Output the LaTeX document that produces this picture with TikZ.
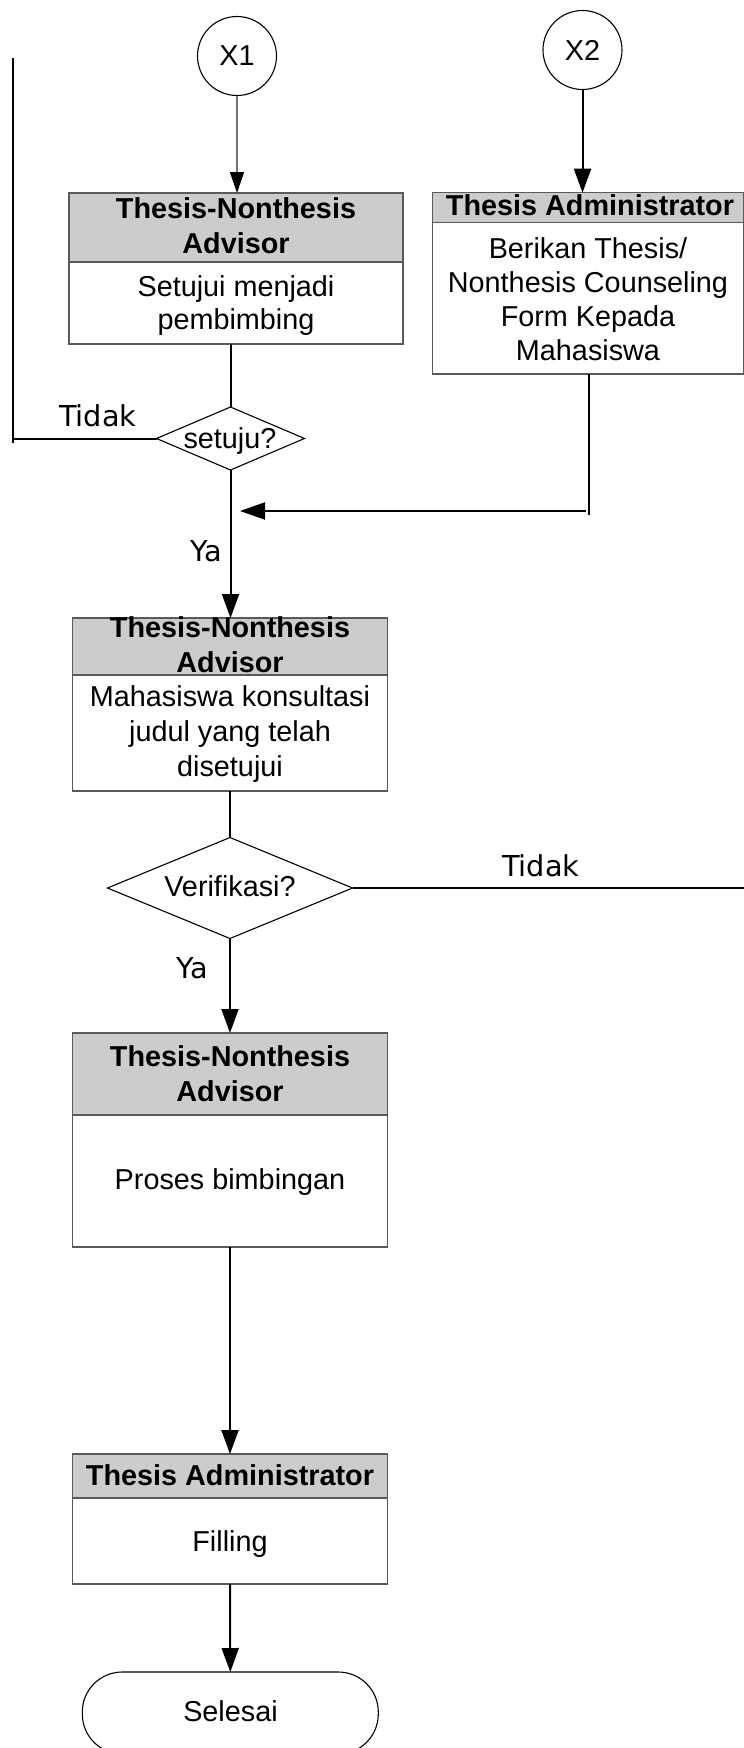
\documentclass[tikz,border=0pt]{standalone}
\usepackage{fontspec}
\setmainfont{Liberation Sans}
\newfontfamily\dejavufont{DejaVu Sans}
\usetikzlibrary{arrows.meta,shapes.geometric}
\definecolor{hdrgray}{RGB}{204,204,204}
\definecolor{edgegray}{RGB}{90,90,90}
\definecolor{lnkgray}{RGB}{115,115,115}
\newcommand{\mlines}[1]{\begin{tabular}[t]{@{}c@{}}#1\end{tabular}}
\tikzset{
  boxnode/.style={rectangle, draw=edgegray, line width=1.2pt, fill=white, inner sep=0pt, outer sep=0pt},
  hdrnode/.style={rectangle, draw=edgegray, line width=1.2pt, fill=hdrgray, inner sep=0pt, outer sep=0pt, anchor=north},
  txt/.style={inner sep=0pt, outer sep=0pt, anchor=base, font=\fontsize{28.8}{34.6}\selectfont},
  hdrtxt/.style={txt, font=\bfseries\fontsize{28.8}{35.2}\selectfont},
  lbl/.style={inner sep=0pt, outer sep=0pt, anchor=base west, font=\dejavufont\fontsize{28.8}{34.6}\selectfont},
  conn/.style={line width=2pt, draw=black},
  arr/.style={conn, -{Triangle[length=24pt,width=17pt]}},
  conncircle/.style={circle, draw=black, line width=1.1pt, minimum size=79pt, inner sep=0pt, outer sep=0pt, font=\fontsize{28.8}{34.6}\selectfont},
  decision/.style={diamond, draw=black, line width=1.1pt, fill=white, inner sep=0pt, outer sep=0pt},
  terminal/.style={rectangle, rounded corners=40pt, draw=black, line width=1.1pt, inner sep=0pt, outer sep=0pt},
}
\begin{document}
\begin{tikzpicture}[x=1pt,y=-1pt]
\useasboundingbox (0,0) rectangle (744,1748);
\fill[white] (0,0) rectangle (744,1748);

% connectors (circles)
\node[conncircle] (x1) at (237,56) {X1};
\node[conncircle] (x2) at (582.5,50) {X2};

% Box 1
\node[boxnode, minimum width=334pt, minimum height=151pt] (b1) at (236,268.5) {};
\node[hdrnode, minimum width=334pt, minimum height=69pt] (b1h) at (b1.north) {};
\node[hdrtxt] (b1ht) at (236,218.3) {\mlines{Thesis-Nonthesis\\Advisor}};
\node[txt, font=\fontsize{28.8}{33}\selectfont] (b1bt) at (236,296) {\mlines{Setujui menjadi\\pembimbing}};

% Box 2
\node[boxnode, minimum width=310.8pt, minimum height=181.3pt] (b2) at (588.1,283.35) {};
\node[hdrnode, minimum width=310.8pt, minimum height=30pt] (b2h) at (b2.north) {};
\node[hdrtxt] (b2ht) at (590,215) {Thesis Administrator};
\node[txt, font=\fontsize{28.8}{34}\selectfont] (b2bt) at (588,258) {\mlines{Berikan Thesis/\\Nonthesis Counseling\\Form Kepada\\Mahasiswa}};

% Decision 1
\node[decision, minimum width=148pt, minimum height=63pt] (d1) at (230.5,438.5) {};
\node[txt] (d1t) at (230,448) {setuju?};

% Box 3
\node[boxnode, minimum width=314.6pt, minimum height=173pt] (b3) at (230,704.5) {};
\node[hdrnode, minimum width=314.6pt, minimum height=57pt] (b3h) at (b3.north) {};
\node[hdrtxt] (b3ht) at (230,637.3) {\mlines{Thesis-Nonthesis\\Advisor}};
\node[txt, font=\fontsize{28.8}{34.7}\selectfont] (b3bt) at (230,706.7) {\mlines{Mahasiswa konsultasi\\judul yang telah\\disetujui}};

% Decision 2
\node[decision, minimum width=245pt, minimum height=101pt] (d2) at (230,888) {};
\node[txt] (d2t) at (230,896.7) {Verifikasi?};

% Box 4
\node[boxnode, minimum width=314.6pt, minimum height=214pt] (b4) at (230,1140) {};
\node[hdrnode, minimum width=314.6pt, minimum height=82pt] (b4h) at (b4.north) {};
\node[hdrtxt] (b4ht) at (230,1066) {\mlines{Thesis-Nonthesis\\Advisor}};
\node[txt] (b4bt) at (230,1189.3) {Proses bimbingan};

% Box 5
\node[boxnode, minimum width=314.6pt, minimum height=130pt] (b5) at (230,1519) {};
\node[hdrnode, minimum width=314.6pt, minimum height=44pt] (b5h) at (b5.north) {};
\node[hdrtxt] (b5ht) at (230,1485) {Thesis Administrator};
\node[txt] (b5bt) at (230,1551.7) {Filling};

% Terminal
\node[terminal, minimum width=296pt, minimum height=82pt] (fin) at (230.3,1713) {};
\node[txt] (fint) at (230.5,1721.7) {Selesai};

% free coordinates
\coordinate (lc) at (13.3,438.5);
\coordinate (lt) at (13.3,58);
\coordinate (lb) at (13.3,443);
\coordinate (m1) at (589,515);
\coordinate (m2) at (586,511);
\coordinate (m3) at (240,511);
\coordinate (r1) at (745,888);

% connectors
\draw[line width=1.5pt, draw=lnkgray, -{Triangle[length=21pt,width=14pt,color=black]}] (x1.south) -- (x1.south |- b1.north);
\draw[arr] (x2.south) -- (x2.south |- b2.north);
\draw[conn] (d1.north |- b1.south) -- (d1.north);
\draw[conn] (d1.west) -- (lc);
\draw[conn] (lb) -- (lt);
\draw[arr] (d1.south) -- (d1.south |- b3.north);
\draw[conn] (m1 |- b2.south) -- (m1);
\draw[conn, -{Triangle[length=25pt,width=17pt]}] (m2) -- (m3);
\draw[conn] (b3.south) -- (d2.north);
\draw[conn] (d2.east) -- (r1);
\draw[arr] (d2.south) -- (b4.north);
\draw[arr] (b4.south) -- (b5.north);
\draw[arr] (b5.south) -- (fin.north);

% labels
\node[lbl] (t1) at (59,426) {Tidak};
\node[lbl] (y1) at (190.7,561.7) {Ya};
\node[lbl] (t2) at (502,876) {Tidak};
\node[lbl] (y2) at (176.7,978.3) {Ya};
\end{tikzpicture}
\end{document}
